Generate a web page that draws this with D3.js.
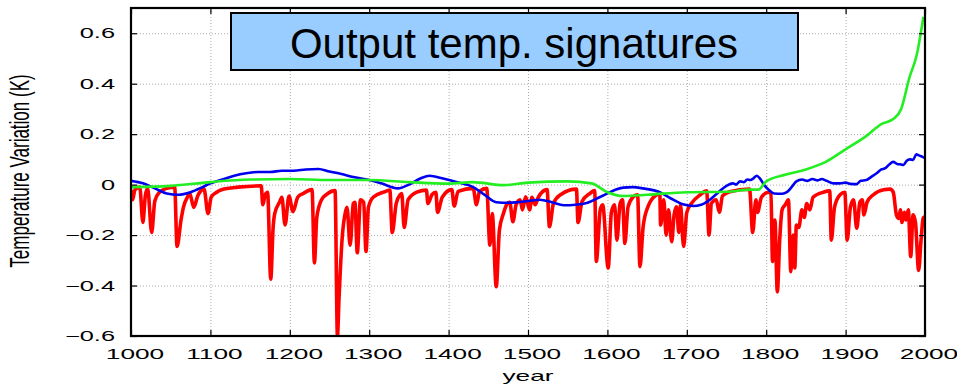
<!DOCTYPE html>
<html>
<head>
<meta charset="utf-8">
<script src="https://cdn.jsdelivr.net/npm/d3@7"></script>
<style>
  html, body { margin: 0; padding: 0; background: #fff; }
  svg { display: block; }
</style>
</head>
<body>
<svg id="chart" width="957" height="387"></svg>
<script>
// ---------- data ----------
const titleText = "Output temp. signatures";
const xLabel = "year";
const yLabel = "Temperature Variation (K)";
const xTicks = [1000, 1100, 1200, 1300, 1400, 1500, 1600, 1700, 1800, 1900, 2000];
const yTicks = [-0.6, -0.4, -0.2, 0, 0.2, 0.4, 0.6];
const xDomain = [1000, 2000];
const yDomain = [-0.6, 0.7];

const redSeries = [
  [1000,-0.02],[1002,-0.06],[1005,-0.02],[1011,-0.01],[1015,-0.15],[1018,-0.045],[1021,-0.015],
  [1026,-0.19],[1030,-0.065],[1036,-0.03],[1045,-0.015],[1055,-0.01],[1058,-0.245],[1063,-0.14],
  [1066,-0.09],[1071,-0.05],[1074,-0.035],[1079,-0.09],[1084,-0.045],[1092,-0.018],[1097,-0.115],
  [1101,-0.05],[1108,-0.03],[1114,-0.02],[1135,-0.01],[1164,-0.005],[1166,-0.08],[1169,-0.04],
  [1172,-0.03],[1176,-0.375],[1179,-0.17],[1181,-0.115],[1187,-0.07],[1190,-0.05],[1194,-0.16],[1199,-0.045],
  [1204,-0.107],[1210,-0.05],[1217,-0.035],[1228,-0.02],[1231,-0.31],[1234,-0.13],[1240,-0.06],
  [1246,-0.04],[1257,-0.024],[1260,-0.6],[1262,-0.45],[1266,-0.21],[1270,-0.11],[1272,-0.09],
  [1276,-0.24],[1280,-0.075],[1282,-0.07],[1285,-0.27],[1289,-0.06],[1293,-0.07],[1296,-0.265],
  [1299,-0.09],[1305,-0.05],[1318,-0.03],[1326,-0.022],[1329,-0.19],[1334,-0.075],[1339,-0.04],
  [1341,-0.035],[1344,-0.17],[1349,-0.06],[1360,-0.03],[1372,-0.022],[1374,-0.075],[1379,-0.04],
  [1384,-0.03],[1386,-0.11],[1392,-0.05],[1404,-0.02],[1407,-0.085],[1412,-0.027],[1431,-0.015],
  [1435,-0.08],[1439,-0.027],[1448,-0.015],[1452,-0.24],[1455,-0.115],[1460,-0.405],[1464,-0.18],
  [1469,-0.115],[1474,-0.075],[1477,-0.07],[1481,-0.147],[1485,-0.08],[1490,-0.06],[1493,-0.1],
  [1497,-0.048],[1502,-0.1],[1505,-0.05],[1509,-0.08],[1513,-0.05],[1524,-0.02],[1527,-0.167],
  [1532,-0.075],[1541,-0.04],[1561,-0.018],[1563,-0.15],[1568,-0.068],[1578,-0.035],[1584,-0.024],
  [1586,-0.305],[1591,-0.1],[1594,-0.08],[1601,-0.33],[1605,-0.11],[1609,-0.08],[1612,-0.22],
  [1616,-0.075],[1619,-0.06],[1622,-0.233],[1626,-0.088],[1632,-0.05],[1638,-0.04],[1641,-0.325],
  [1645,-0.167],[1651,-0.088],[1662,-0.04],[1666,-0.035],[1667,-0.16],[1671,-0.06],[1674,-0.2],
  [1677,-0.1],[1681,-0.226],[1684,-0.12],[1687,-0.088],[1690,-0.19],[1692,-0.08],[1696,-0.245],
  [1700,-0.11],[1706,-0.074],[1717,-0.04],[1725,-0.025],[1728,-0.2],[1731,-0.074],[1737,-0.06],
  [1741,-0.11],[1745,-0.045],[1754,-0.028],[1779,-0.018],[1783,-0.19],[1787,-0.06],[1789,-0.11],
  [1794,-0.05],[1803,-0.03],[1806,-0.035],[1808,-0.305],[1811,-0.14],[1814,-0.425],[1817,-0.22],
  [1820,-0.1],[1824,-0.08],[1828,-0.06],[1831,-0.345],[1834,-0.2],[1836,-0.33],[1838,-0.16],
  [1841,-0.17],[1845,-0.1],[1848,-0.13],[1851,-0.075],[1855,-0.1],[1859,-0.05],[1872,-0.03],
  [1880,-0.025],[1882,-0.22],[1886,-0.09],[1893,-0.04],[1899,-0.03],[1902,-0.22],[1906,-0.09],
  [1910,-0.06],[1914,-0.173],[1918,-0.07],[1921,-0.06],[1923,-0.12],[1927,-0.07],[1935,-0.04],
  [1948,-0.02],[1956,-0.018],[1960,-0.03],[1964,-0.12],[1967,-0.134],[1969,-0.1],[1971,-0.15],
  [1974,-0.11],[1976,-0.14],[1979,-0.1],[1982,-0.285],[1985,-0.12],[1988,-0.15],[1992,-0.34],
  [1995,-0.22],[1998,-0.13],[2000,-0.13]
];

const blueSeries = [
  [1000,0.015],[1015,0.005],[1030,-0.015],[1045,-0.035],[1060,-0.04],[1075,-0.03],[1090,-0.01],
  [1100,0.005],[1115,0.02],[1130,0.035],[1145,0.045],[1160,0.05],[1175,0.05],[1190,0.055],
  [1205,0.055],[1220,0.06],[1236,0.062],[1250,0.052],[1265,0.042],[1280,0.03],[1297,0.02],
  [1315,0.005],[1336,-0.015],[1350,0.0],[1365,0.025],[1376,0.035],[1392,0.025],[1410,0.01],
  [1431,-0.01],[1445,-0.04],[1460,-0.07],[1475,-0.072],[1486,-0.07],[1500,-0.065],[1515,-0.06],
  [1530,-0.07],[1545,-0.082],[1560,-0.08],[1575,-0.072],[1590,-0.05],[1600,-0.035],[1610,-0.02],
  [1620,-0.012],[1632,-0.01],[1645,-0.015],[1666,-0.03],[1680,-0.055],[1695,-0.078],[1708,-0.085],
  [1718,-0.08],[1729,-0.06],[1740,-0.03],[1750,-0.005],[1758,0.005],[1762,0.0],[1767,0.013],
  [1772,0.01],[1776,0.02],[1780,0.018],[1784,0.025],[1788,0.035],[1792,0.025],[1797,0.0],
  [1803,-0.02],[1810,-0.035],[1820,-0.036],[1826,-0.03],[1832,-0.01],[1838,0.013],[1845,0.02],
  [1852,0.015],[1858,0.022],[1865,0.017],[1870,0.022],[1876,0.015],[1885,0.005],[1893,0.005],
  [1900,0.008],[1906,0.003],[1914,0.002],[1919,0.015],[1926,0.018],[1932,0.03],[1939,0.045],
  [1945,0.06],[1950,0.065],[1955,0.08],[1960,0.09],[1965,0.082],[1970,0.08],[1973,0.078],
  [1977,0.095],[1981,0.1],[1985,0.098],[1989,0.12],[1993,0.115],[1997,0.11],[2000,0.105]
];

const greenSeries = [
  [1000,-0.01],[1050,-0.005],[1100,0.01],[1150,0.02],[1200,0.022],[1250,0.018],[1300,0.018],
  [1350,0.01],[1400,0.004],[1430,0.01],[1470,-0.002],[1500,0.008],[1550,0.013],[1580,0.005],
  [1600,-0.03],[1620,-0.045],[1650,-0.04],[1700,-0.03],[1750,-0.028],[1780,-0.02],[1790,-0.02],
  [1800,0.013],[1825,0.04],[1850,0.06],[1875,0.09],[1900,0.14],[1925,0.19],[1945,0.24],
  [1960,0.26],[1970,0.30],[1980,0.42],[1990,0.52],[1998,0.665]
];

// ---------- layout ----------
const svg = d3.select("#chart");
const m = {left: 131, top: 8, right: 925, bottom: 336};
const W = m.right - m.left, H = m.bottom - m.top;
const FONT = "'Liberation Sans', Arial, Helvetica, sans-serif";

const x = d3.scaleLinear().domain(xDomain).range([m.left, m.right]);
const y = d3.scaleLinear().domain(yDomain).range([m.bottom, m.top]);

// grid
const gridX = svg.append("g").attr("transform", `translate(0,${m.bottom})`)
  .call(d3.axisBottom(x).tickValues(xTicks.slice(1, -1)).tickSize(-H).tickFormat(""));
const gridY = svg.append("g").attr("transform", `translate(${m.left},0)`)
  .call(d3.axisLeft(y).tickValues(yTicks.slice(1)).tickSize(-W).tickFormat(""));
[gridX, gridY].forEach(g => {
  g.select(".domain").remove();
  g.selectAll("line").attr("stroke", "#aaa").attr("stroke-width", 1).attr("stroke-dasharray", "1,2");
});

// clip
svg.append("clipPath").attr("id", "plotclip")
  .append("rect").attr("x", m.left).attr("y", m.top).attr("width", W).attr("height", H);

const curveLine = d3.line().x(d => x(d[0])).y(d => y(d[1])).curve(d3.curveMonotoneX);

const plot = svg.append("g").attr("clip-path", "url(#plotclip)");
plot.append("path").datum(redSeries).attr("d", curveLine)
  .attr("fill", "none").attr("stroke", "#ff0000").attr("stroke-width", 3.6).attr("stroke-linejoin", "round");
plot.append("path").datum(blueSeries).attr("d", curveLine)
  .attr("fill", "none").attr("stroke", "#0000ee").attr("stroke-width", 2.6);
plot.append("path").datum(greenSeries).attr("d", curveLine)
  .attr("fill", "none").attr("stroke", "#22ee22").attr("stroke-width", 2.6);

// axes (inward ticks, mirrored)
const SX = 1.75;
const axB = svg.append("g").attr("transform", `translate(0,${m.bottom})`)
  .call(d3.axisBottom(x).tickValues(xTicks).tickSize(-6).tickPadding(12).tickFormat(d3.format("d")));
const axT = svg.append("g").attr("transform", `translate(0,${m.top})`)
  .call(d3.axisTop(x).tickValues(xTicks).tickSize(-6).tickFormat(""));
const axL = svg.append("g").attr("transform", `translate(${m.left},0)`)
  .call(d3.axisLeft(y).tickValues(yTicks).tickSize(-6).tickPadding(16)
    .tickFormat(d => d === 0 ? "0" : d3.format(".1f")(d)));
const axR = svg.append("g").attr("transform", `translate(${m.right},0)`)
  .call(d3.axisRight(y).tickValues(yTicks).tickSize(-6).tickFormat(""));
[axB, axT, axL, axR].forEach(g => {
  g.select(".domain").remove();
  g.selectAll("line").attr("stroke", "#000").attr("stroke-width", 1.2);
});
axB.selectAll("text").attr("font-family", FONT).attr("font-size", 15).attr("fill", "#000")
  .attr("x", 2).attr("transform", `scale(${SX},1)`);
axL.selectAll("text").attr("font-family", FONT).attr("font-size", 14.5).attr("fill", "#000")
  .attr("x", -16 / SX).attr("transform", `scale(${SX},1)`);

// frame
svg.append("rect").attr("x", m.left).attr("y", m.top).attr("width", W).attr("height", H)
  .attr("fill", "none").attr("stroke", "#000").attr("stroke-width", 2.2);

// axis titles
svg.append("text").attr("transform", `translate(${(m.left + m.right) / 2},381) scale(${SX},1)`)
  .attr("text-anchor", "middle").attr("font-family", FONT).attr("font-size", 15).text(xLabel);
svg.append("text").attr("transform", `translate(29,171) scale(1.6,1) rotate(-90)`)
  .attr("text-anchor", "middle").attr("font-family", FONT).attr("font-size", 17).text(yLabel);

// title box
svg.append("rect").attr("x", 231).attr("y", 13).attr("width", 567).attr("height", 57)
  .attr("fill", "#99ccff").attr("stroke", "#000").attr("stroke-width", 2);
svg.append("text").attr("x", 514).attr("y", 58).attr("text-anchor", "middle")
  .attr("font-family", FONT).attr("font-size", 42).attr("fill", "#000").text(titleText);
</script>
</body>
</html>
